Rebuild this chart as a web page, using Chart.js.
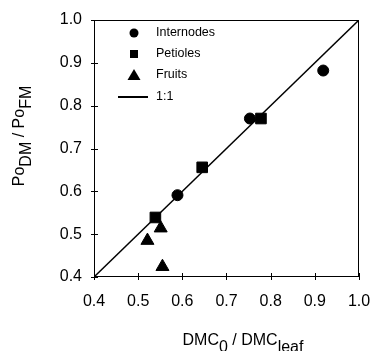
<!DOCTYPE html>
<html>
<head>
<meta charset="utf-8">
<script src="https://cdn.jsdelivr.net/npm/chart.js@4/dist/chart.umd.min.js"></script>
<style>
  html, body { margin: 0; padding: 0; background: #fff; }
  #wrap { width: 374px; height: 351px; position: relative; }
</style>
</head>
<body>
<div id="wrap"><canvas id="c"></canvas></div>
<script>
// values
const internodesX = [0.919, 0.753, 0.589];
const internodesY = [0.882, 0.770, 0.591];
const petiolesX = [0.778, 0.645, 0.539];
const petiolesY = [0.770, 0.656, 0.539];
const fruitsX = [0.551, 0.521, 0.555];
const fruitsY = [0.514, 0.485, 0.424];
const oneToOneX = [0.4, 1.0];
const oneToOneY = [0.4, 1.0];
const axisTicks = [0.4, 0.5, 0.6, 0.7, 0.8, 0.9, 1.0];

const FONT = 'Liberation Sans, Arial, sans-serif';
const pts = (xs, ys) => xs.map((x, i) => ({ x: x, y: ys[i] }));

// frame, tick marks, axis titles with subscripts, and legend inside the plot
const extras = {
    id: 'extras',
    afterDraw(chart) {
        const ctx = chart.ctx;
        const a = chart.chartArea;
        const xs = chart.scales.x, ys = chart.scales.y;
        ctx.save();
        ctx.strokeStyle = '#000';
        ctx.lineWidth = 1;
        ctx.strokeRect(a.left + 0.5, a.top + 0.5, a.right - a.left - 1, a.bottom - a.top - 1);
        ctx.beginPath();
        axisTicks.forEach(v => {
            const px = Math.round(xs.getPixelForValue(v)) + 0.5;
            ctx.moveTo(px, a.bottom - 4);
            ctx.lineTo(px, a.bottom + 3);
            const py = Math.round(ys.getPixelForValue(v)) + 0.5;
            ctx.moveTo(a.left - 3, py);
            ctx.lineTo(a.left + 4, py);
        });
        ctx.stroke();

        // axis titles
        ctx.fillStyle = '#000';
        ctx.font = '16px ' + FONT;
        ctx.textBaseline = 'alphabetic';
        ctx.textAlign = 'left';
        const drawParts = (parts, cx, cy) => {
            let w = 0;
            parts.forEach(p => { w += ctx.measureText(p[0]).width; });
            let x = cx - w / 2;
            parts.forEach(p => {
                ctx.fillText(p[0], x, cy + (p[1] ? 7 : 0));
                x += ctx.measureText(p[0]).width;
            });
        };
        drawParts([['DMC', 0], ['0', 1], [' / DMC', 0], ['leaf', 1]], 243, 345);
        ctx.save();
        ctx.translate(24, 136);
        ctx.rotate(-Math.PI / 2);
        drawParts([['Po', 0], ['DM', 1], [' / Po', 0], ['FM', 1]], 0, 0);
        ctx.restore();

        // legend
        ctx.font = '12.5px ' + FONT;
        ctx.textBaseline = 'middle';
        const mx = a.left + 40, tx = a.left + 62;
        const rows = [a.top + 13, a.top + 34, a.top + 55, a.top + 77];
        ctx.beginPath();
        ctx.arc(mx, rows[0], 4.5, 0, Math.PI * 2);
        ctx.fill();
        ctx.fillRect(mx - 4, rows[1] - 4, 8, 8);
        ctx.beginPath();
        ctx.moveTo(mx, rows[2] - 6);
        ctx.lineTo(mx + 6.5, rows[2] + 5);
        ctx.lineTo(mx - 6.5, rows[2] + 5);
        ctx.closePath();
        ctx.fill();
        ctx.lineWidth = 2;
        ctx.beginPath();
        ctx.moveTo(a.left + 24, rows[3]);
        ctx.lineTo(a.left + 54, rows[3]);
        ctx.stroke();
        const labels = ['Internodes', 'Petioles', 'Fruits', '1:1'];
        labels.forEach((t, i) => ctx.fillText(t, tx, rows[i]));
        ctx.restore();
    }
};

new Chart(document.getElementById('c'), {
    type: 'scatter',
    data: {
        datasets: [
            {
                label: '1:1',
                data: pts(oneToOneX, oneToOneY),
                showLine: true,
                borderColor: '#000',
                borderWidth: 1.5,
                pointRadius: 0
            },
            {
                label: 'Internodes',
                data: pts(internodesX, internodesY),
                pointStyle: 'circle',
                pointRadius: 5.5,
                backgroundColor: '#000',
                borderColor: '#000'
            },
            {
                label: 'Petioles',
                data: pts(petiolesX, petiolesY),
                pointStyle: 'rect',
                pointRadius: 7.5,
                backgroundColor: '#000',
                borderColor: '#000'
            },
            {
                label: 'Fruits',
                data: pts(fruitsX, fruitsY),
                pointStyle: 'triangle',
                pointRadius: 7.5,
                backgroundColor: '#000',
                borderColor: '#000'
            }
        ]
    },
    options: {
        responsive: true,
        maintainAspectRatio: false,
        animation: false,
        layout: { padding: { left: 0, top: 20, right: 15, bottom: 0 } },
        plugins: {
            legend: { display: false },
            tooltip: { enabled: false }
        },
        scales: {
            x: {
                type: 'linear',
                min: 0.4,
                max: 1.0,
                grid: { display: false, drawTicks: false },
                border: { display: false },
                ticks: {
                    stepSize: 0.1,
                    color: '#000',
                    padding: 15,
                    maxRotation: 0,
                    font: { family: FONT, size: 16 },
                    callback: v => v.toFixed(1)
                },
                afterFit: s => { s.height = 74; s.paddingLeft = 0; s.paddingRight = 0; }
            },
            y: {
                type: 'linear',
                min: 0.4,
                max: 1.0,
                grid: { display: false, drawTicks: false },
                border: { display: false },
                ticks: {
                    stepSize: 0.1,
                    color: '#000',
                    padding: 12,
                    font: { family: FONT, size: 16 },
                    callback: v => v.toFixed(1)
                },
                afterFit: s => { s.width = 94; s.paddingTop = 0; s.paddingBottom = 0; }
            }
        }
    },
    plugins: [extras]
});
</script>
</body>
</html>
